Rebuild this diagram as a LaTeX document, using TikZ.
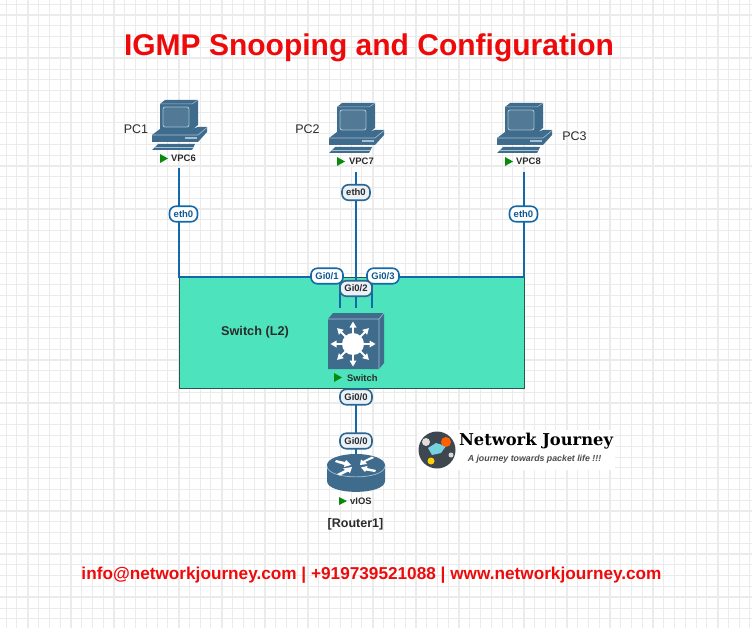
\documentclass[tikz,border=0pt]{standalone}
\usepackage{fontspec}
\setmainfont{Liberation Sans}
\newfontfamily\logofont{DejaVu Serif}
\definecolor{gridc}{HTML}{EBEBEB}
\definecolor{icon}{HTML}{3F6B8C}
\definecolor{iconlight}{HTML}{A5C0D2}
\definecolor{wire}{HTML}{1268A8}
\definecolor{boxfill}{HTML}{4DE3BD}
\definecolor{boxline}{HTML}{24594E}
\definecolor{tagline}{HTML}{2F6690}
\definecolor{tagfill}{HTML}{EAF2F8}
\definecolor{play}{HTML}{0A8A0A}
\definecolor{ink}{HTML}{2B2B2B}
\definecolor{redt}{HTML}{EE0A0A}
\definecolor{logobg}{HTML}{3E4650}
\tikzset{
  x=1pt,y=1pt,
  wireline/.style={draw=wire,line width=1.9pt},
  tagbase/.style={rounded corners=6.5pt,line width=1.6pt,inner sep=0pt,minimum height=15.5pt,font=\bfseries\fontsize{9.5}{10}\selectfont,fill=tagfill},
  bluetag/.style={tagbase,draw=wire,text=wire!85!black,fill=white},
  graytag/.style={tagbase,draw=tagline,text=ink,fill=tagfill},
  devlabel/.style={font=\bfseries\fontsize{9.4}{10}\selectfont,text=ink,inner sep=0pt,anchor=west},
  plainlabel/.style={font=\fontsize{12.5}{14}\selectfont,text=ink,inner sep=0pt},
  playmark/.style={fill=play,draw=none},
  pics/pcicon/.style={code={
    % monitor body
    \fill[icon] (-19,-10) -- (-14,-14) -- (19,-14) -- (19,11) -- (13,16) -- (-19,16) -- cycle;
    \draw[iconlight,line width=.5pt] (-19,-10) -- (13,-10) -- (19,-14);
    \fill[icon!90!white] (-16,-7) rectangle (10,13);
    \draw[iconlight,line width=.9pt,rounded corners=2pt] (-16,-7) rectangle (10,13);
    % base
    \fill[icon] (-27,21) -- (-19,15) -- (13,15) -- (19,13) -- (28,13) -- (28,18) -- (19,28) -- (-27,28) -- cycle;
    \draw[iconlight,line width=.6pt] (-27,21) -- (19,21) -- (28,13.5);
    \draw[iconlight,line width=1.1pt] (6,24) -- (18,24);
    % keyboard
    \fill[icon] (-21,30) -- (16,30) -- (13,36) -- (-27,36) -- cycle;
    \draw[iconlight,line width=.5pt] (-24,33) -- (14,33);
  }},
  pics/swicon/.style={code={
    \fill[icon] (328,369) -- (328,319) -- (333,313) -- (384,313) -- (384,363) -- (379,369) -- cycle;
    \draw[iconlight,line width=.6pt] (328,319) -- (379,319) -- (384,313) (379,319) -- (379,369);
    \fill[white] (353,344) circle (11);
    \foreach \a in {0,45,...,315}{
      \begin{scope}[shift={(353,344)},rotate=\a]
        \draw[white,line width=1.8pt] (10,0) -- (18,0);
        \fill[white] (22.5,0) -- (16.5,-3.5) -- (16.5,3.5) -- cycle;
      \end{scope}}
  }},
  pics/rticon/.style={code={
    \fill[icon] (327,465) -- (327,481) .. controls (327,495.5) and (385,495.5) .. (385,481) -- (385,465) -- cycle;
    \fill[icon] (356,465) ellipse[x radius=29,y radius=11];
    \draw[iconlight,line width=.7pt] (327,466) .. controls (327,480.5) and (385,480.5) .. (385,466);
    \fill[white] (336,460) -- (345,462) -- (346,460) -- (351,465) -- (344,467) -- (344.5,465) -- (335,462) -- cycle;
    \fill[white] (374,458) -- (365,462) -- (367,464) -- (360,465) -- (361,459.5) -- (363,461) -- (372,456.5) -- cycle;
    \fill[white] (376,470) -- (367,468) -- (367.5,466) -- (361,467.5) -- (365,472) -- (366,470.5) -- (375,472) -- cycle;
    \fill[white] (337,474) -- (345,470) -- (343,468.5) -- (352,467) -- (350,473) -- (348,471.5) -- (340,475.5) -- cycle;
  }},
}
\begin{document}
\begin{tikzpicture}[y=-1pt]
\useasboundingbox (0,0) rectangle (752,628);
\fill[white] (0,0) rectangle (752,628);
% paper grid
\foreach \i in {0,...,69}{
  \pgfmathsetmacro{\gx}{6+10.78*\i}
  \draw[gridc,line width=.7pt] (\gx,0) -- (\gx,628);}
\foreach \i in {0,...,58}{
  \pgfmathsetmacro{\gy}{4.2+10.78*\i}
  \draw[gridc,line width=.7pt] (0,\gy) -- (752,\gy);}
\foreach \i in {0,...,34}{
  \pgfmathsetmacro{\gx}{28+21.56*\i-21.56}
  \draw[gridc,line width=1.3pt] (\gx,0) -- (\gx,628);}
\foreach \i in {0,...,29}{
  \pgfmathsetmacro{\gy}{15+21.56*\i}
  \draw[gridc,line width=1.3pt] (0,\gy) -- (752,\gy);}
% title and footer
\node[font=\bfseries\fontsize{30}{33}\selectfont,text=redt,inner sep=0pt] (title) at (369,47.5) {IGMP Snooping and Configuration};
\node[font=\bfseries\fontsize{17.2}{19}\selectfont,text=redt,inner sep=0pt] (footer) at (371.5,575.5) {info@networkjourney.com | +919739521088 | www.networkjourney.com};
% L2 area
\node[draw=boxline,fill=boxfill,line width=.8pt,minimum width=345pt,minimum height=111pt,inner sep=0pt] (area) at (351.5,332.5) {};
% connector anchors
\coordinate (pc1port) at (179,168);
\coordinate (pc2port) at (356,172);
\coordinate (pc3port) at (524,172);
\coordinate (b1) at (179,277);
\coordinate (b2) at (340,277);
\coordinate (b3) at (524,277);
\coordinate (b4) at (372,277);
\coordinate (sw1) at (340,308);
\coordinate (sw2) at (356,308);
\coordinate (sw3) at (372,308);
\coordinate (swdown) at (356,388);
\coordinate (rtup) at (356,455);
\draw[wireline] (pc1port) -- (b1) -- (b2) -- (sw1);
\draw[wireline] (pc2port) -- (sw2);
\draw[wireline] (pc3port) -- (b3) -- (b4) -- (sw3);
\draw[wireline] (swdown) -- (rtup);
% icons
\pic at (179,114) {pcicon};
\pic at (356,117) {pcicon};
\pic at (524,117) {pcicon};
\pic at (0,0) {swicon};
\pic at (0,0) {rticon};
% device labels
\fill[playmark] (160,154) -- (168,158.5) -- (160,163) -- cycle;
\node[devlabel] (vpc6) at (171,158.5) {VPC6};
\fill[playmark] (337,157) -- (345,161.5) -- (337,166) -- cycle;
\node[devlabel] (vpc7) at (349,161.5) {VPC7};
\fill[playmark] (505,157) -- (513,161.5) -- (505,166) -- cycle;
\node[devlabel] (vpc8) at (516,161.5) {VPC8};
\fill[playmark] (334,373) -- (342,377.5) -- (334,382) -- cycle;
\node[devlabel] (swl) at (347,378) {Switch};
\fill[playmark] (339,497) -- (347,501) -- (339,505) -- cycle;
\node[devlabel] (rtl) at (350,501.5) {vIOS};
\node[plainlabel] (pc1t) at (136,129) {PC1};
\node[plainlabel] (pc2t) at (307.5,129) {PC2};
\node[plainlabel] (pc3t) at (574.5,136) {PC3};
\node[plainlabel,font=\bfseries\fontsize{12.7}{14}\selectfont] (swt) at (255,332.5) {Switch (L2)};
\node[plainlabel,font=\bfseries\fontsize{12.5}{14}\selectfont] (rtt) at (355.5,524) {[Router1]};
% interface tags
\node[bluetag,minimum width=28pt] (e1) at (183.5,214) {eth0};
\node[graytag,minimum width=28pt] (e2) at (356,192.5) {eth0};
\node[bluetag,minimum width=28pt] (e3) at (523.5,214) {eth0};
\node[bluetag,minimum width=32pt] (g1) at (327,276) {Gi0/1};
\node[bluetag,minimum width=32pt] (g3) at (383,276) {Gi0/3};
\node[graytag,minimum width=32pt] (g2) at (356,288.5) {Gi0/2};
\node[graytag,minimum width=32pt] (g0a) at (356,397) {Gi0/0};
\node[graytag,minimum width=32pt] (g0b) at (356,441) {Gi0/0};
% logo
\node[fill=white,inner sep=0pt,minimum width=198pt,minimum height=40pt] (logobox) at (516,450) {};
\fill[logobg] (437,450) circle (18.5);
\fill[iconlight!70!cyan] (428,448) -- (436,443) -- (446,446) -- (441,453) -- (432,455) -- cycle;
\fill[orange!75!red] (446,442) circle (5);
\fill[white!75!gray] (426,442) circle (4);
\fill[yellow!70!orange] (431,461) circle (3.5);
\fill[white!70!gray] (451,455) circle (2.5);
\node[font=\logofont\bfseries\fontsize{16.3}{18}\selectfont,text=black,inner sep=0pt] (logot) at (536,441.5) {Network Journey};
\node[font=\itshape\bfseries\fontsize{8.8}{10}\selectfont,text=ink!85!white,inner sep=0pt] (logos) at (534.5,459.5) {A journey towards packet life !!!};
\end{tikzpicture}
\end{document}
